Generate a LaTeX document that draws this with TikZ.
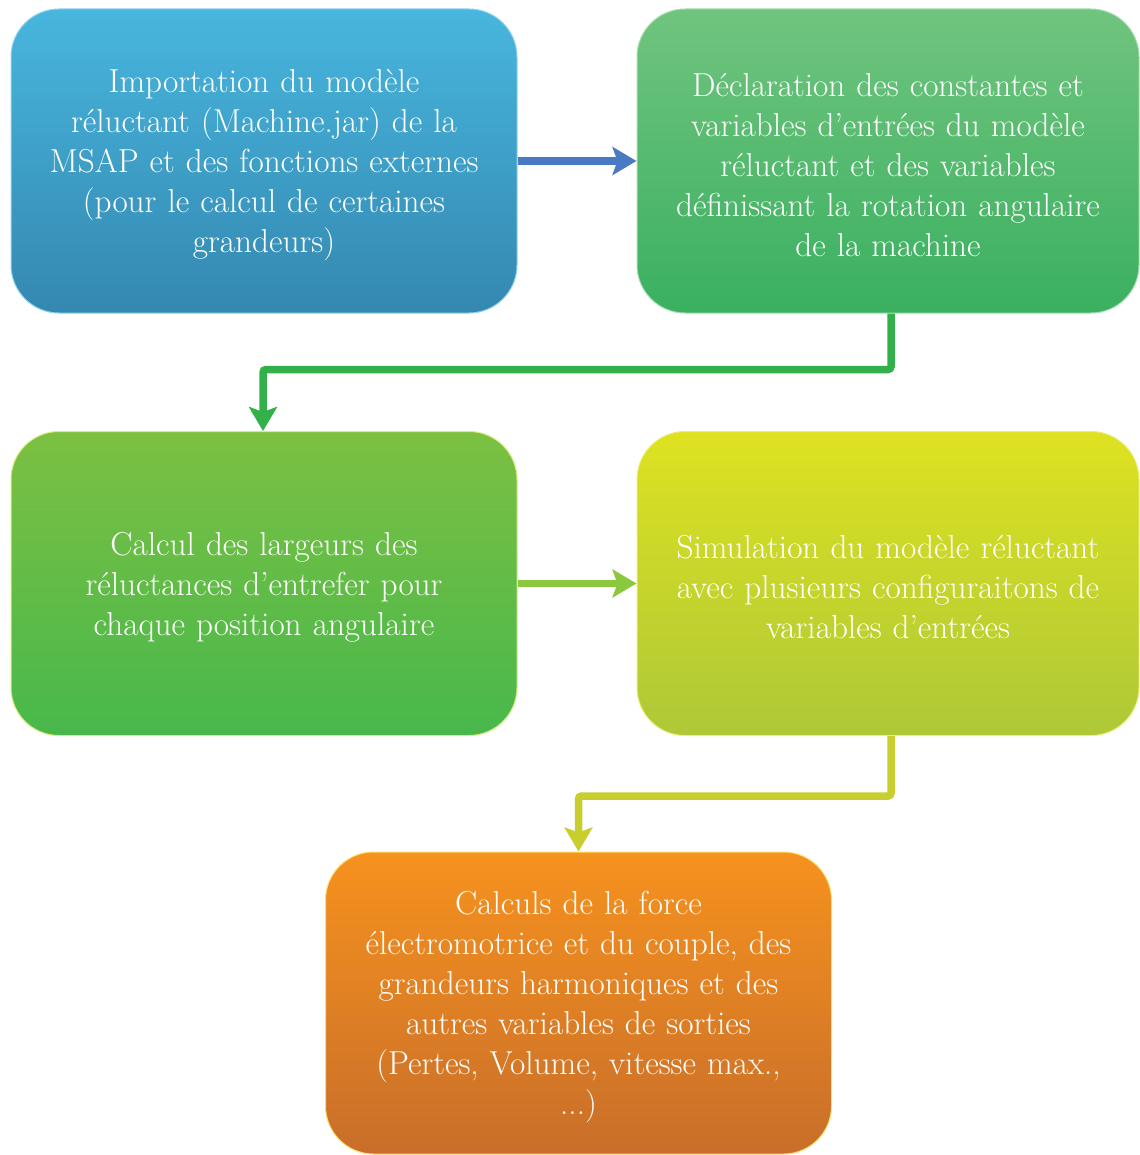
\documentclass[tikz,border=0pt]{standalone}
\usepackage{fontspec}
\usetikzlibrary{arrows.meta}
\definecolor{b1t}{RGB}{72,182,222}
\definecolor{b1b}{RGB}{52,136,176}
\definecolor{b2t}{RGB}{112,196,126}
\definecolor{b2b}{RGB}{58,176,96}
\definecolor{b3t}{RGB}{124,192,66}
\definecolor{b3b}{RGB}{72,184,76}
\definecolor{b4t}{RGB}{222,226,32}
\definecolor{b4b}{RGB}{174,200,56}
\definecolor{b5t}{RGB}{246,146,30}
\definecolor{b5b}{RGB}{200,110,42}
\definecolor{a1}{RGB}{74,122,196}
\definecolor{a2}{RGB}{50,176,74}
\definecolor{a3}{RGB}{140,200,62}
\definecolor{a4}{RGB}{200,206,46}
\begin{document}
\begin{tikzpicture}[x=1pt,y=-1pt,
  stepbox/.style={rectangle, rounded corners=48pt, minimum width=506pt,
    minimum height=304pt, text width=490pt, align=center, text=white,
    font=\fontsize{33.2}{40}\selectfont, inner sep=0pt,
    execute at begin node={\rule{0pt}{31pt}}},
  conn/.style={line width=7.5pt, rounded corners=3pt,
    -{Stealth[length=24pt,width=28pt,inset=5pt]}}
]
\useasboundingbox (0,0) rectangle (1139,1155);
\node[stepbox, top color=b1t, bottom color=b1b, draw=b1t!60!white, line width=1pt] (b1) at (264,161)
  {Importation du modèle\\réluctant (Machine.jar) de la\\MSAP et des fonctions externes\\(pour le calcul de certaines\\grandeurs)};
\node[stepbox, minimum width=502pt, top color=b2t, bottom color=b2b, draw=b2t!60!white, line width=1pt] (b2) at (888,161)
  {Déclaration des constantes et\\variables d’entrées du modèle\\réluctant et des variables\\définissant la rotation angulaire\\de la machine};
\node[stepbox, top color=b3t, bottom color=b3b, draw=b3t!50!yellow!60!white, line width=1pt] (b3) at (264,583.5)
  {Calcul des largeurs des\\réluctances d’entrefer pour\\chaque position angulaire};
\node[stepbox, minimum width=502pt, top color=b4t, bottom color=b4b, draw=b4t!60!white, line width=1pt] (b4) at (888,583.5)
  {Simulation du modèle réluctant\\avec plusieurs configuraitons de\\variables d’entrées};
\node[stepbox, minimum height=302pt, top color=b5t, bottom color=b5b, draw=b5t!50!yellow!60!white, line width=1pt] (b5) at (578.5,1003)
  {Calculs de la force\\électromotrice et du couple, des\\grandeurs harmoniques et des\\autres variables de sorties\\(Pertes, Volume, vitesse max.,\\...)};
\draw[conn, color=a1] (b1.east) -- (b2.west);
\draw[conn, color=a2] ([xshift=3pt]b2.south) -- ++(0,56) -| ([xshift=-1pt]b3.north);
\draw[conn, color=a3] (b3.east) -- (b4.west);
\draw[conn, color=a4] ([xshift=3pt]b4.south) -- ++(0,60) -| (b5.north);
\end{tikzpicture}
\end{document}
